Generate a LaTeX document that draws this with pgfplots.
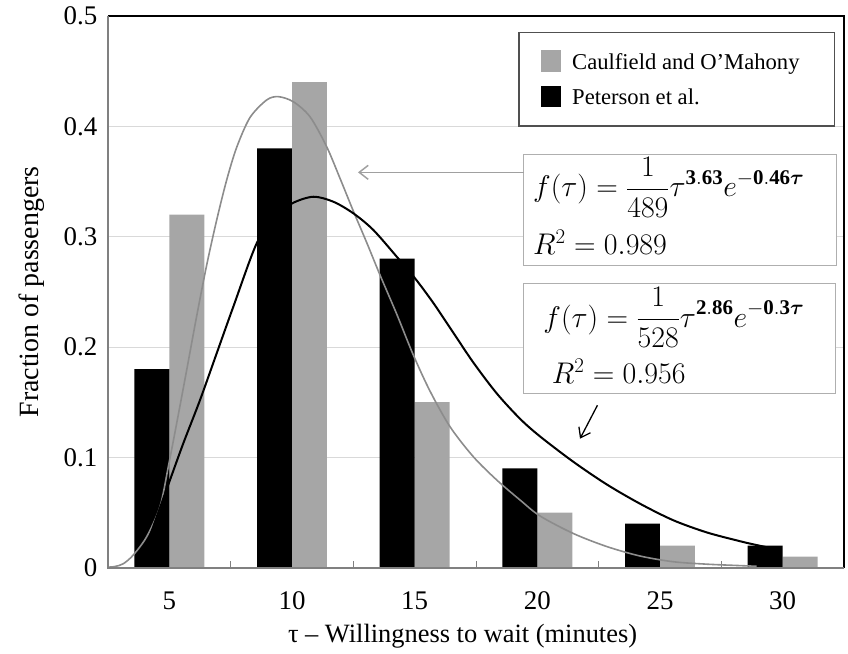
\RequirePackage{fix-cm}
\documentclass[border=0pt]{standalone}
\usepackage{amsmath}
\usepackage{fontspec}
\setmainfont{Liberation Serif}
\usepackage{pgfplots}
\pgfplotsset{compat=1.18}
\usetikzlibrary{arrows.meta}
\definecolor{barg}{RGB}{166,166,166}
\definecolor{curg}{RGB}{140,140,140}
\definecolor{gridc}{RGB}{217,217,217}
\definecolor{axisg}{RGB}{128,128,128}
\definecolor{boxc}{RGB}{175,175,175}
\definecolor{arrg}{RGB}{160,160,160}
\definecolor{legc}{RGB}{80,80,80}
\begin{document}
\begin{tikzpicture}
\useasboundingbox (-108bp,-86.3bp) rectangle (740bp,567.7bp);
\begin{axis}[
  scale only axis, width=736bp, height=551.7bp,
  xmin=-0.5, xmax=5.5, ymin=0, ymax=0.5,
  clip=false,
  axis line style={draw=none},
  xtick={0,1,2,3,4,5}, xticklabels={5,10,15,20,25,30},
  ytick={0,0.1,0.2,0.3,0.4,0.5}, yticklabels={0,0.1,0.2,0.3,0.4,0.5},
  major tick length=0pt,
  ymajorgrids, grid style={gridc, line width=1bp},
  xtick pos=bottom, ytick pos=left,
  extra x ticks={0.5,1.5,2.5,3.5,4.5},
  extra x tick labels={},
  extra x tick style={major tick length=7bp, tick align=inside, tick style={axisg, line width=1bp}},
  tick label style={font=\fontsize{27}{32}\selectfont},
  xticklabel style={font=\fontsize{27}{32}\selectfont, anchor=base, yshift=-42bp},
  yticklabel style={font=\fontsize{27}{32}\selectfont, anchor=east, inner sep=0pt, xshift=-10.5bp},
  xlabel={τ – Willingness to wait (minutes)},
  xlabel style={at={(axis description cs:0.4817,-0.1347)}, anchor=base, font=\fontsize{26.5}{31}\selectfont},
  ylabel={Fraction of passengers},
  ylabel style={at={(axis description cs:-0.0947,0.5)}, anchor=base, font=\fontsize{28}{33}\selectfont},
  legend style={draw=none, fill=none, inner sep=0pt, at={(axis description cs:0.5883,0.9384)}, anchor=north west, row sep=13.8bp, column sep=11bp, nodes={inner sep=0pt, anchor=base west}, font=\fontsize{22.7}{27}\selectfont},
  legend image code/.code={\fill[#1] (0bp,-2.4bp) rectangle (20bp,19.3bp);},
]
% legend frame
\draw[legc, line width=1.5bp, fill=white] (axis cs:2.8505,0.4852) rectangle (axis cs:5.424,0.4003);

\addplot[ybar, bar width=0.285, bar shift=0.1427, fill=barg, draw=none] coordinates {(0,0.32) (1,0.44) (2,0.15) (3,0.05) (4,0.02) (5,0.01)};
\addlegendentry{Caulfield and O’Mahony}
\addplot[ybar, bar width=0.285, bar shift=-0.1427, fill=black, draw=none] coordinates {(0,0.18) (1,0.38) (2,0.28) (3,0.09) (4,0.04) (5,0.02)};
\addlegendentry{Peterson et al.}

% fitted curve, Caulfield and O'Mahony
\addplot[curg, line width=1.6bp, smooth, forget plot] coordinates {
(-0.5,0.0005) (-0.4429,0.0011) (-0.3753,0.0036) (-0.2938,0.0115) (-0.1845,0.0281)
(-0.0761,0.0553) (-0.0084,0.0915) (0.0600,0.1309) (0.1416,0.1792) (0.2231,0.2281)
(0.3046,0.2743) (0.3861,0.3151) (0.4676,0.3514) (0.5492,0.3810) (0.6576,0.4080)
(0.7937,0.4239) (0.8883,0.4269) (1.0106,0.4223) (1.1467,0.4087) (1.2828,0.3815)
(1.3913,0.3529) (1.4997,0.3233) (1.6089,0.2947) (1.7173,0.2653) (1.8535,0.2299)
(1.9888,0.1928) (2.1249,0.1601) (2.2880,0.1278) (2.4780,0.1006) (2.6688,0.0795)
(2.8586,0.0614) (3.0217,0.0469) (3.2932,0.0310) (3.5654,0.0192) (3.8369,0.0106)
(4.1083,0.0054) (4.3807,0.0032) (4.6521,0.0019) (4.7882,0.0013)};

% fitted curve, Peterson et al.
\addplot[black, line width=2bp, smooth, forget plot] coordinates {
(-0.27,0.003) (-0.2,0.016) (-0.1,0.047) (0.0054,0.0795) (0.1138,0.1127) (0.2500,0.1519)
(0.3861,0.1943) (0.5215,0.2365) (0.7122,0.2940) (0.8614,0.3170)
(1.0024,0.3302) (1.1736,0.3362) (1.3367,0.3317) (1.4997,0.3212) (1.6628,0.3061)
(1.8535,0.2819) (2.0027,0.2623) (2.1518,0.2400) (2.3149,0.2130) (2.4780,0.1860)
(2.6688,0.1580) (2.8587,0.1350) (3.0217,0.1190) (3.2932,0.0960) (3.5654,0.0755)
(3.8369,0.0580) (4.1083,0.0430) (4.3807,0.0320) (4.6521,0.0240) (4.7882,0.0205)
(4.8970,0.0180)};

% equation boxes
\draw[boxc, line width=1bp, fill=white] (axis cs:2.891,0.3746) rectangle (axis cs:5.437,0.2743);
\draw[boxc, line width=1bp, fill=white] (axis cs:2.891,0.2577) rectangle (axis cs:5.434,0.1577);
\node[anchor=base west, inner sep=0pt, font=\fontsize{30}{36}\selectfont] at (axis cs:2.9646,0.3360)
  {$\displaystyle f(\tau)=\frac{1}{489}\tau^{\mathbf{3.63}}e^{\mathbf{-0.46}\boldsymbol{\tau}}$};
\node[anchor=base west, inner sep=0pt, font=\fontsize{30}{36}\selectfont] at (axis cs:2.9646,0.2843)
  {$R^2=0.989$};
\node[anchor=base west, inner sep=0pt, font=\fontsize{30}{36}\selectfont] at (axis cs:3.0486,0.2181)
  {$\displaystyle f(\tau)=\frac{1}{528}\tau^{\mathbf{2.86}}e^{\mathbf{-0.3}\boldsymbol{\tau}}$};
\node[anchor=base west, inner sep=0pt, font=\fontsize{30}{36}\selectfont] at (axis cs:3.1170,0.1671)
  {$R^2=0.956$};

% arrows
\draw[arrg, line width=1.5bp, -{Straight Barb[length=9bp,width=14bp]}] (axis cs:2.891,0.3583) -- (axis cs:1.538,0.3583);
\draw[black, line width=1.3bp, -{Straight Barb[length=9bp,width=13bp]}] (axis cs:3.490,0.1472) -- (axis cs:3.348,0.1169);

% frame
\draw[black, line width=2bp] (rel axis cs:0,1) -- (rel axis cs:1,1) -- (rel axis cs:1,0);
\draw[axisg, line width=2bp] (rel axis cs:0,1) -- (rel axis cs:0,0) -- (rel axis cs:1,0);
\end{axis}
\end{tikzpicture}
\end{document}
